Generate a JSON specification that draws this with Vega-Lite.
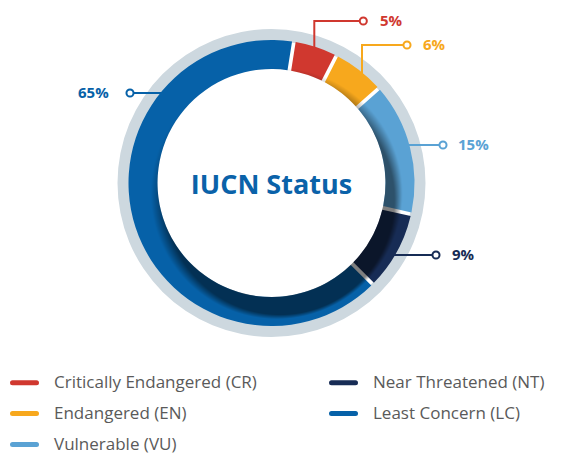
{
  "$schema": "https://vega.github.io/schema/vega-lite/v6.json",
  "width": 579,
  "height": 456,
  "padding": 0,
  "autosize": {"type": "none"},
  "background": "white",
  "config": {"view": {"stroke": null}},
  "datasets": {
    "status": [
      {"status": "Critically Endangered (CR)", "pct": 5, "ord": 1},
      {"status": "Endangered (EN)", "pct": 6, "ord": 2},
      {"status": "Vulnerable (VU)", "pct": 15, "ord": 3},
      {"status": "Near Threatened (NT)", "pct": 9, "ord": 4},
      {"status": "Least Concern (LC)", "pct": 65, "ord": 5}
    ],
    "leaders": [
      {"status": "Critically Endangered (CR)", "i": 0, "x": 42.8, "y": 130},
      {"status": "Critically Endangered (CR)", "i": 1, "x": 42.8, "y": 162},
      {"status": "Critically Endangered (CR)", "i": 2, "x": 91.8, "y": 162},
      {"status": "Endangered (EN)", "i": 0, "x": 90.5, "y": 105},
      {"status": "Endangered (EN)", "i": 1, "x": 90.5, "y": 138},
      {"status": "Endangered (EN)", "i": 2, "x": 135.5, "y": 138},
      {"status": "Vulnerable (VU)", "i": 0, "x": 130, "y": 38},
      {"status": "Vulnerable (VU)", "i": 1, "x": 171.5, "y": 38},
      {"status": "Near Threatened (NT)", "i": 0, "x": 115, "y": -72},
      {"status": "Near Threatened (NT)", "i": 1, "x": 164.5, "y": -72},
      {"status": "Least Concern (LC)", "i": 0, "x": -105, "y": 90},
      {"status": "Least Concern (LC)", "i": 1, "x": -141.5, "y": 90}
    ],
    "labels": [
      {"status": "Critically Endangered (CR)", "label": "5%", "cx": 91.8, "cy": 162, "tx": 108.5, "ty": 162},
      {"status": "Endangered (EN)", "label": "6%", "cx": 135.5, "cy": 138, "tx": 151.5, "ty": 138},
      {"status": "Vulnerable (VU)", "label": "15%", "cx": 171.5, "cy": 38, "tx": 186.5, "ty": 38},
      {"status": "Near Threatened (NT)", "label": "9%", "cx": 164.5, "cy": -72, "tx": 180.5, "ty": -72},
      {"status": "Least Concern (LC)", "label": "65%", "cx": -141.5, "cy": 90, "tx": -193.5, "ty": 90}
    ]
  },
  "resolve": {"legend": {"color": "shared"}},
  "layer": [
    {
      "data": {"values": [{"ring": "outer"}]},
      "mark": {"type": "arc", "theta": 0, "theta2": 6.2832, "innerRadius": 142, "outerRadius": 154, "color": "#cdd8df"},
      "encoding": {
        "x": {"datum": 0, "type": "quantitative", "scale": {"domain": [-271.5, 307.5], "nice": false, "zero": false}, "axis": null},
        "y": {"datum": 0, "type": "quantitative", "scale": {"domain": [-273, 183], "nice": false, "zero": false}, "axis": null}
      }
    },
    {
      "data": {"name": "leaders"},
      "mark": {"type": "line", "strokeWidth": 2},
      "encoding": {
        "x": {"field": "x", "type": "quantitative", "scale": {"domain": [-271.5, 307.5], "nice": false, "zero": false}, "axis": null},
        "y": {"field": "y", "type": "quantitative", "scale": {"domain": [-273, 183], "nice": false, "zero": false}, "axis": null},
        "detail": {"field": "status"},
        "order": {"field": "i", "type": "quantitative"},
        "color": {"field": "status", "type": "nominal"}
      }
    },
    {
      "data": {"name": "status"},
      "mark": {"type": "arc", "innerRadius": 114, "outerRadius": 143, "padAngle": 0.02},
      "encoding": {
        "x": {"datum": 0, "type": "quantitative", "scale": {"domain": [-271.5, 307.5], "nice": false, "zero": false}, "axis": null},
        "y": {"datum": 0, "type": "quantitative", "scale": {"domain": [-273, 183], "nice": false, "zero": false}, "axis": null},
        "theta": {"field": "pct", "type": "quantitative", "stack": true, "scale": {"range": [0.157, 6.4402]}},
        "order": {"field": "ord", "type": "quantitative"},
        "color": {
          "field": "status",
          "type": "nominal",
          "scale": {
            "domain": ["Critically Endangered (CR)", "Endangered (EN)", "Vulnerable (VU)", "Near Threatened (NT)", "Least Concern (LC)"],
            "range": ["#d0382f", "#f7a81d", "#5aa2d4", "#172c55", "#0661a8"]
          },
          "legend": {
            "orient": "none",
            "legendX": 10,
            "legendY": 368,
            "columns": 2,
            "title": null,
            "symbolType": "stroke",
            "symbolSize": 576,
            "symbolStrokeWidth": 5,
            "labelFont": "Open Sans",
            "labelFontSize": 17,
            "labelColor": "#5a5a5a",
            "labelOffset": 15,
            "labelLimit": 400,
            "columnPadding": 64,
            "rowPadding": 6,
            "encode": {
              "symbols": {"update": {"stroke": {"scale": "color", "field": "value"}, "strokeWidth": {"value": 5}, "strokeCap": {"value": "round"}, "opacity": {"value": 1}}}
            }
          }
        }
      }
    },
    {
      "data": {"values": [{"ring": "shade"}]},
      "mark": {
        "type": "arc", "theta": 0, "theta2": 6.2832, "innerRadius": 114, "outerRadius": 143,
        "color": {
          "gradient": "radial",
          "x1": 0.53, "y1": 0.56, "r1": 0.4,
          "x2": 0.5, "y2": 0.5, "r2": 0.5,
          "stops": [
            {"offset": 0, "color": "rgba(0,0,0,0.5)"},
            {"offset": 0.4, "color": "rgba(0,0,0,0)"},
            {"offset": 1, "color": "rgba(0,0,0,0)"}
          ]
        }
      },
      "encoding": {
        "x": {"datum": 0, "type": "quantitative", "scale": {"domain": [-271.5, 307.5], "nice": false, "zero": false}, "axis": null},
        "y": {"datum": 0, "type": "quantitative", "scale": {"domain": [-273, 183], "nice": false, "zero": false}, "axis": null}
      }
    },
    {
      "data": {"name": "labels"},
      "mark": {"type": "point", "filled": false, "fill": "white", "size": 50, "strokeWidth": 2, "opacity": 1},
      "encoding": {
        "x": {"field": "cx", "type": "quantitative", "scale": {"domain": [-271.5, 307.5], "nice": false, "zero": false}, "axis": null},
        "y": {"field": "cy", "type": "quantitative", "scale": {"domain": [-273, 183], "nice": false, "zero": false}, "axis": null},
        "color": {"field": "status", "type": "nominal"}
      }
    },
    {
      "data": {"name": "labels"},
      "mark": {"type": "text", "align": "left", "baseline": "middle", "font": "Open Sans", "fontWeight": "bold", "fontSize": 15},
      "encoding": {
        "x": {"field": "tx", "type": "quantitative", "scale": {"domain": [-271.5, 307.5], "nice": false, "zero": false}, "axis": null},
        "y": {"field": "ty", "type": "quantitative", "scale": {"domain": [-273, 183], "nice": false, "zero": false}, "axis": null},
        "text": {"field": "label"},
        "color": {"field": "status", "type": "nominal"}
      }
    },
    {
      "data": {"values": [{"title": "IUCN Status"}]},
      "mark": {"type": "text", "align": "center", "baseline": "middle", "font": "Open Sans", "fontWeight": "bold", "fontSize": 27, "color": "#0a62a9"},
      "encoding": {
        "x": {"datum": 0, "type": "quantitative", "scale": {"domain": [-271.5, 307.5], "nice": false, "zero": false}, "axis": null},
        "y": {"datum": -3, "type": "quantitative", "scale": {"domain": [-273, 183], "nice": false, "zero": false}, "axis": null},
        "text": {"field": "title"}
      }
    }
  ]
}
